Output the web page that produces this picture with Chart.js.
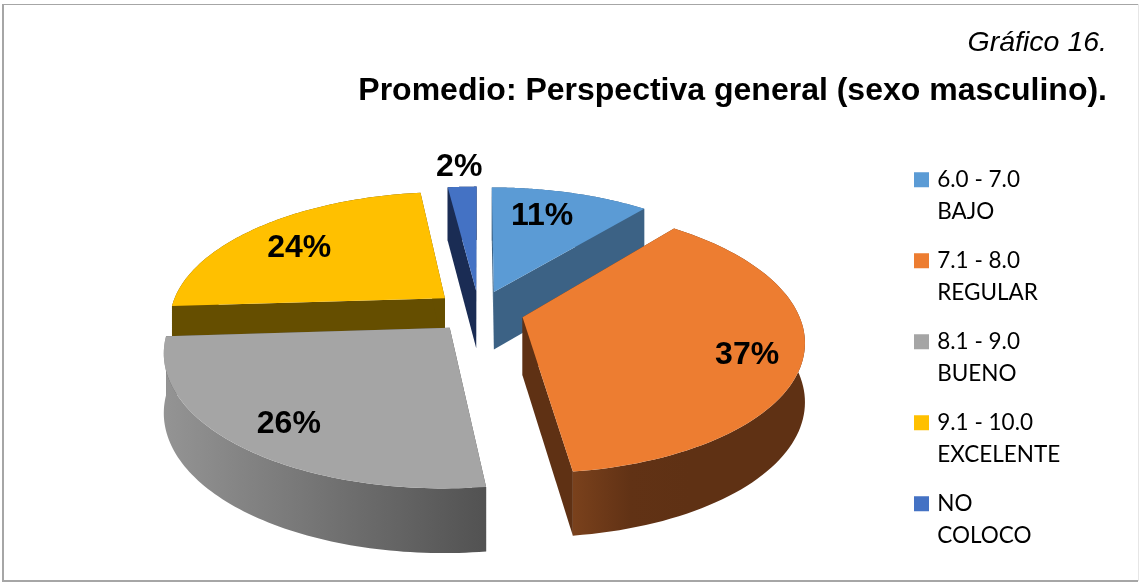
<!DOCTYPE html>
<html>
<head>
<meta charset="utf-8">
<style>
  html, body { margin: 0; padding: 0; background: #fff; }
  canvas { display: block; }
</style>
<script src="https://cdn.jsdelivr.net/npm/chart.js@4"></script>
</head>
<body>
<canvas id="chart" width="1140" height="582"></canvas>
<script>
const categories = [
  ["6.0 - 7.0", "BAJO"],
  ["7.1 - 8.0", "REGULAR"],
  ["8.1 - 9.0", "BUENO"],
  ["9.1 - 10.0", "EXCELENTE"],
  ["NO", "COLOCO"],
];
const values = [11, 37, 26, 24, 2];

const topColors = ["#5B9BD5", "#ED7D31", "#A5A5A5", "#FFC000", "#4472C4"];
const sideColors = [
  ["#3C6285", "#3C6285"],
  ["#7A411C", "#613215", "#5F3114", "#5F3114", "#5F3114"],
  ["#949494", "#525252"],
  ["#654E00", "#654E00"],
  ["#1A2C54", "#1A2C54"],
];
// where each percent label sits: part of the slice sweep, part of the radius
const labelSweep = [0.42, 0.53, 0.48, 0.465, 0.49];
const labelRadius = [0.72, 0.815, 0.815, 0.73, 1.22];

// fake 3D view of the flat pie
const tilt = 0.465;
const perspective = 0.166;
const depth = 58;
const steps = 80;

function project(arc, x, y, drop) {
  const s = 1 / (1 - perspective * y / arc.outerRadius);
  return { x: arc.x + x * s, y: arc.y + y * tilt * s + drop * (1 + s) / 2 };
}

function slicePoint(arc, angle, radius, drop) {
  const mid = (arc.startAngle + arc.endAngle) / 2;
  const off = arc.options.offset;
  const x = off * Math.cos(mid) + radius * Math.cos(angle);
  const y = off * Math.sin(mid) + radius * Math.sin(angle);
  return project(arc, x, y, drop);
}

function fillPoly(ctx, pts, fill) {
  ctx.beginPath();
  pts.forEach((p, i) => (i ? ctx.lineTo(p.x, p.y) : ctx.moveTo(p.x, p.y)));
  ctx.closePath();
  ctx.fillStyle = fill;
  ctx.fill();
}

function arcPoints(arc, drop) {
  const pts = [];
  for (let i = 0; i <= steps; i++) {
    const a = arc.startAngle + (arc.endAngle - arc.startAngle) * i / steps;
    pts.push(slicePoint(arc, a, arc.outerRadius, drop));
  }
  return pts;
}

function drawSlice(ctx, arc, index) {
  const top = arcPoints(arc, 0);
  const bottom = arcPoints(arc, depth);
  const apex = slicePoint(arc, arc.startAngle, 0, 0);
  const apexLow = slicePoint(arc, arc.startAngle, 0, depth);
  const colors = sideColors[index];
  const solid = colors[colors.length - 1];

  fillPoly(ctx, [apex, top[0], bottom[0], apexLow], solid);
  fillPoly(ctx, [apex, top[steps], bottom[steps], apexLow], solid);

  const xs = bottom.map((p) => p.x);
  const grad = ctx.createLinearGradient(Math.min(...xs), 0, Math.max(...xs), 0);
  colors.forEach((c, i) => grad.addColorStop(i / (colors.length - 1), c));
  fillPoly(ctx, top.concat(bottom.slice().reverse()), grad);

  fillPoly(ctx, [apex].concat(top), arc.options.backgroundColor);
}

const pie3d = {
  id: "pie3d",
  afterLayout(chart) {
    // the legend sits further left and lower than the layout would put it
    chart.legend.left -= 64;
    chart.legend.top += 111;
    chart.legend.bottom += 111;
    // pie centre a little left of the middle of the free area
    chart.chartArea.right -= 6;
  },
  beforeDraw(chart) {
    // frame: heavier on the left and bottom, almost gone on the right
    const ctx = chart.ctx;
    ctx.save();
    ctx.fillStyle = "#A6A6A6";
    ctx.fillRect(2, 4, 1136, 1);
    ctx.fillRect(2, 4, 2, 577);
    ctx.fillRect(2, 580, 1136, 2);
    ctx.fillStyle = "#E6E6E6";
    ctx.fillRect(1138, 4, 1, 577);
    ctx.restore();
  },
  beforeDatasetDraw(chart, args) {
    const ctx = chart.ctx;
    const arcs = args.meta.data;
    const order = arcs
      .map((arc, i) => i)
      .sort((a, b) => {
        const midA = (arcs[a].startAngle + arcs[a].endAngle) / 2;
        const midB = (arcs[b].startAngle + arcs[b].endAngle) / 2;
        return Math.sin(midA) - Math.sin(midB);
      });
    order.forEach((i) => drawSlice(ctx, arcs[i], i));

    ctx.save();
    ctx.fillStyle = "#000";
    ctx.font = "bold 32px 'Liberation Sans'";
    ctx.textAlign = "center";
    ctx.textBaseline = "middle";
    arcs.forEach((arc, i) => {
      const a = arc.startAngle + (arc.endAngle - arc.startAngle) * labelSweep[i];
      const p = slicePoint(arc, a, arc.outerRadius * labelRadius[i], 0);
      ctx.fillText(values[i] + "%", p.x, p.y);
    });
    ctx.restore();
    return false;
  },
};

new Chart(document.getElementById("chart"), {
  type: "pie",
  plugins: [pie3d],
  data: {
    labels: categories,
    datasets: [
      {
        data: values,
        backgroundColor: topColors,
        borderColor: topColors,
        borderWidth: 6,
        offset: 45,
        radius: 275,
      },
    ],
  },
  options: {
    responsive: false,
    animation: false,
    layout: { padding: { right: 33, bottom: 79 } },
    plugins: {
      tooltip: { enabled: false },
      subtitle: {
        display: true,
        text: "Gráfico 16.",
        align: "end",
        color: "#000",
        weight: 3000,
        font: { family: "'Liberation Sans'", size: 28.5, style: "italic", weight: "normal" },
        padding: { top: 26, bottom: 12 },
      },
      title: {
        display: true,
        text: "Promedio: Perspectiva general (sexo masculino).",
        align: "end",
        color: "#000",
        font: { family: "'Liberation Sans'", size: 32, weight: "bold" },
        padding: { top: 0, bottom: 9 },
      },
      legend: {
        position: "right",
        align: "center",
        labels: {
          boxWidth: 9,
          boxHeight: 9,
          padding: 17,
          color: "#000",
          font: { family: "Lato", size: 22.5, lineHeight: 32 / 22.5 },
        },
      },
    },
  },
});
</script>
</body>
</html>
